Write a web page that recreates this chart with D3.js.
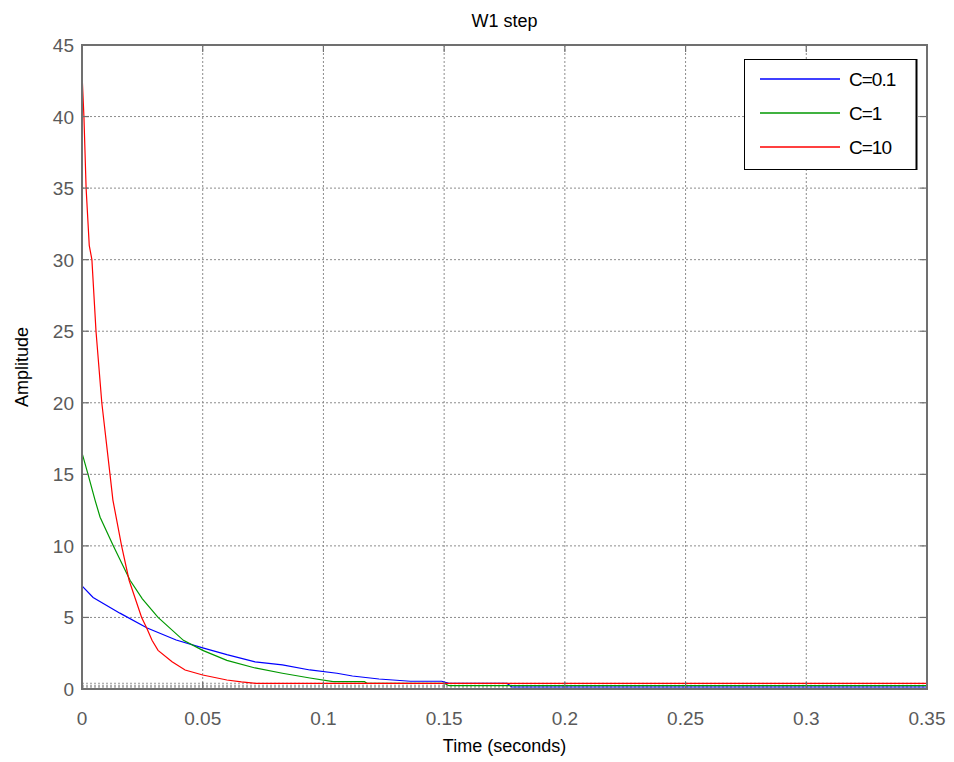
<!DOCTYPE html>
<html>
<head>
<meta charset="utf-8">
<script src="https://cdn.jsdelivr.net/npm/d3@7"></script>
<style>
body{margin:0;background:#fff;}
text{font-family:"Liberation Sans",Arial,sans-serif;}
</style>
</head>
<body>
<svg id="chart" width="954" height="762"></svg>
<script>
var xTicks = [0, 0.05, 0.1, 0.15, 0.2, 0.25, 0.3, 0.35];
var yTicks = [0, 5, 10, 15, 20, 25, 30, 35, 40, 45];
var nearZero = [0.07, 0.16, 0.26, 0.4];

// step responses, [time, amplitude]
var c01 = [[0,7.2],[0.0046,6.4],[0.0157,5.3],[0.027,4.26],[0.039,3.42],[0.05,2.87],[0.06,2.4],
	[0.0717,1.9],[0.083,1.68],[0.0944,1.33],[0.1056,1.1],[0.112,0.91],[0.123,0.7],[0.136,0.54],
	[0.149,0.54],[0.152,0.4],[0.176,0.4],[0.178,0.14],[0.35,0.14]];
var c1 = [[0,16.5],[0.0025,15],[0.0054,13.2],[0.0075,12],[0.013,10],[0.0199,7.6],[0.025,6.3],
	[0.0315,5],[0.042,3.4],[0.05,2.7],[0.06,2.0],[0.0717,1.47],[0.083,1.1],[0.0944,0.77],
	[0.104,0.51],[0.117,0.51],[0.118,0.4],[0.15,0.4],[0.152,0.23],[0.35,0.23]];
var c10 = [[0,43],[0.0008,40],[0.0017,35],[0.003,31],[0.0041,30],[0.0058,25],[0.0082,20],
	[0.0116,15],[0.0128,13.2],[0.0164,10],[0.0195,7.6],[0.0247,5],[0.0268,4.26],[0.029,3.4],
	[0.0315,2.7],[0.0373,1.9],[0.0427,1.33],[0.05,0.98],[0.06,0.63],[0.066,0.5],[0.072,0.4],[0.35,0.4]];

var series = [
	{name:'C=0.1', data:c01, color:'#0000ff'},
	{name:'C=1', data:c1, color:'#009900'},
	{name:'C=10', data:c10, color:'#ff0000'}
];

var params = {left:82, right:927, top:45, bottom:689};
var svg = d3.select('#chart');

var x = d3.scaleLinear().domain([0, 0.35]).range([params.left, params.right]);
var y = d3.scaleLinear().domain([0, 45]).range([params.bottom, params.top]);

//grid
svg.append('g').selectAll('line').data(xTicks).enter().append('line')
	.attr('x1', d => x(d)).attr('x2', d => x(d))
	.attr('y1', params.top).attr('y2', params.bottom)
	.attr('stroke', '#8c8c8c').attr('stroke-dasharray', '2,2').attr('stroke-width', 1);
svg.append('g').selectAll('line').data(yTicks).enter().append('line')
	.attr('x1', params.left).attr('x2', params.right)
	.attr('y1', d => y(d)).attr('y2', d => y(d))
	.attr('stroke', '#8c8c8c').attr('stroke-dasharray', '2,2').attr('stroke-width', 1);
svg.append('g').selectAll('line').data(nearZero).enter().append('line')
	.attr('x1', params.left).attr('x2', params.right)
	.attr('y1', d => y(d)).attr('y2', d => y(d))
	.attr('stroke', '#9a9a9a').attr('stroke-dasharray', '2,2').attr('stroke-width', 1);

//curves
svg.append('clipPath').attr('id', 'clip').append('rect')
	.attr('x', params.left).attr('y', params.top)
	.attr('width', params.right - params.left).attr('height', params.bottom - params.top);
var line = d3.line().x(d => x(d[0])).y(d => y(d[1]));
series.forEach(function(s){
	svg.append('path')
		.attr('d', line(s.data))
		.attr('clip-path', 'url(#clip)')
		.attr('fill', 'none')
		.attr('stroke', s.color)
		.attr('stroke-width', 1.2);
});

//box and ticks
svg.append('rect')
	.attr('x', params.left).attr('y', params.top)
	.attr('width', params.right - params.left).attr('height', params.bottom - params.top)
	.attr('fill', 'none').attr('stroke', '#707070').attr('stroke-width', 2);

var tk = svg.append('g').attr('stroke', '#707070').attr('stroke-width', 1.2);
xTicks.forEach(function(t){
	tk.append('line').attr('x1', x(t)).attr('x2', x(t)).attr('y1', params.bottom).attr('y2', params.bottom - 7);
	tk.append('line').attr('x1', x(t)).attr('x2', x(t)).attr('y1', params.top).attr('y2', params.top + 7);
});
yTicks.forEach(function(t){
	tk.append('line').attr('x1', params.left).attr('x2', params.left + 7).attr('y1', y(t)).attr('y2', y(t));
	tk.append('line').attr('x1', params.right).attr('x2', params.right - 7).attr('y1', y(t)).attr('y2', y(t));
});

svg.append('g').selectAll('text').data(xTicks).enter().append('text')
	.attr('x', d => x(d)).attr('y', params.bottom + 36)
	.attr('text-anchor', 'middle').attr('font-size', 19).attr('fill', '#5a5a5a')
	.text(d => d);
svg.append('g').selectAll('text').data(yTicks).enter().append('text')
	.attr('x', params.left - 8).attr('y', d => y(d) + 7)
	.attr('text-anchor', 'end').attr('font-size', 19).attr('fill', '#5a5a5a')
	.text(d => d);

//labels
svg.append('text').attr('x', (params.left + params.right) / 2).attr('y', 27)
	.attr('text-anchor', 'middle').attr('font-size', 18).text('W1 step');
svg.append('text').attr('x', (params.left + params.right) / 2).attr('y', 752)
	.attr('text-anchor', 'middle').attr('font-size', 18).text('Time (seconds)');
svg.append('text').attr('transform', 'translate(28,' + ((params.top + params.bottom) / 2) + ') rotate(-90)')
	.attr('text-anchor', 'middle').attr('font-size', 18).text('Amplitude');

//legend
var lg = svg.append('g');
lg.append('rect').attr('x', 744.5).attr('y', 59.5).attr('width', 172).attr('height', 110)
	.attr('fill', '#fff').attr('stroke', '#000').attr('stroke-width', 1);
lg.append('line').attr('x1', 916.5).attr('x2', 916.5).attr('y1', 59).attr('y2', 170)
	.attr('stroke', '#000').attr('stroke-width', 2);
series.forEach(function(s, i){
	var ly = 79 + i * 34;
	lg.append('line').attr('x1', 760).attr('x2', 840).attr('y1', ly).attr('y2', ly)
		.attr('stroke', s.color).attr('stroke-width', 1.5);
	lg.append('text').attr('x', 849).attr('y', ly + 7).attr('font-size', 19).attr('letter-spacing', -1)
		.text(s.name);
});
</script>
</body>
</html>
